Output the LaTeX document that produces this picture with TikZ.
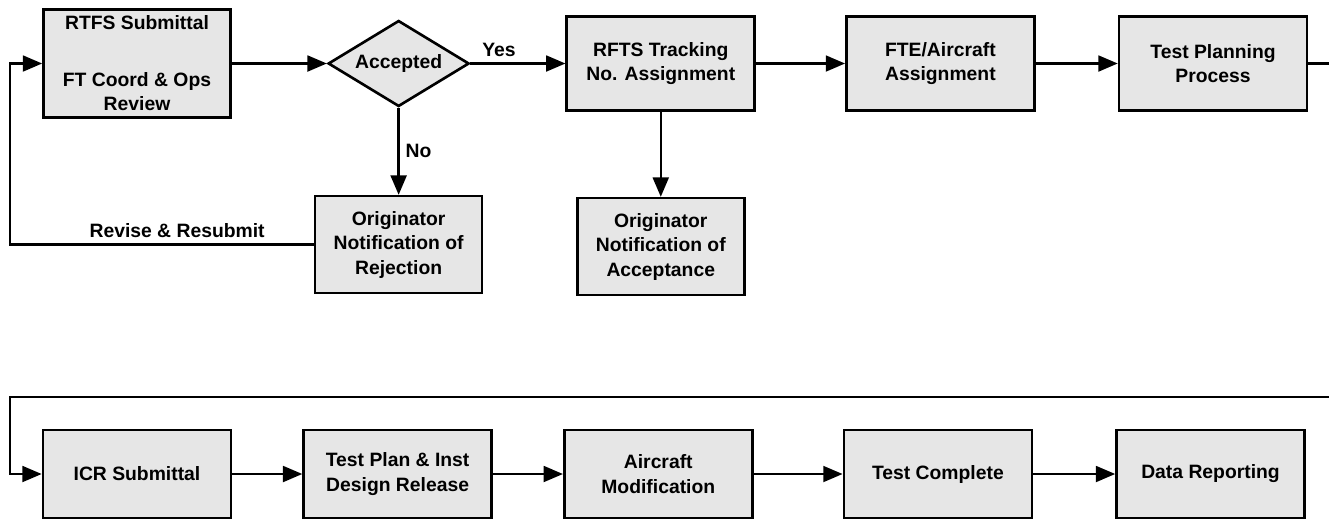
\documentclass[tikz,border=0pt]{standalone}
\usepackage{fontspec}
\setmainfont{Liberation Sans}
\usetikzlibrary{arrows.meta,positioning,shapes.geometric}
\definecolor{boxfill}{HTML}{E6E6E6}

\begin{document}
\begin{tikzpicture}[
  stepbox/.style={draw, line width=1.5pt, fill=boxfill, minimum width=3.76cm, minimum height=1.88cm, align=center, inner sep=2pt, font=\fontsize{11}{14}\selectfont\bfseries},
  notebox/.style={stepbox, minimum width=3.34cm, minimum height=1.94cm},
  decision/.style={draw, line width=1.5pt, fill=boxfill, diamond, aspect=1.64, minimum width=2.82cm, minimum height=1.72cm, inner sep=0pt, font=\fontsize{11}{14}\selectfont\bfseries},
  arr/.style={-{Triangle[length=11pt,width=9pt]}, line width=1.4pt},
  lbl/.style={font=\fontsize{11}{14}\selectfont\bfseries}
]
  \useasboundingbox (0,0) rectangle (26.58,-10.44);
  \coordinate (lft) at (0.2,0);
  \coordinate (rgt) at (27.0,0);
  \coordinate (bus) at (0,-7.94);

  \node[stepbox, minimum width=3.74cm, minimum height=2.16cm] (rtfs) at (2.74,-1.27) {RTFS Submittal\\[18pt]FT Coord \& Ops\\Review};
  \node[decision, right=1.9cm of rtfs] (acc) {Accepted};
  \node[stepbox, right=1.9cm of acc] (rfts) {RFTS Tracking\\No. Assignment};
  \node[stepbox, right=1.78cm of rfts] (fte) {FTE/Aircraft\\Assignment};
  \node[stepbox, right=1.64cm of fte] (tpp) {Test Planning\\Process};
  \node[notebox, below=1.74cm of acc] (rej) {Originator\\Notification of\\Rejection};
  \node[notebox, below=1.7cm of rfts] (accn) {Originator\\Notification of\\Acceptance};

  \node[stepbox, minimum height=1.76cm] (icr) at (2.74,-9.48) {ICR Submittal};
  \node[stepbox, minimum height=1.76cm, right=1.4cm of icr] (tpi) {Test Plan \& Inst\\Design Release};
  \node[stepbox, minimum height=1.76cm, right=1.4cm of tpi] (mod) {Aircraft\\Modification};
  \node[stepbox, minimum height=1.76cm, right=1.78cm of mod] (tc) {Test Complete};
  \node[stepbox, minimum height=1.76cm, right=1.64cm of tc] (rep) {Data Reporting};

  \draw[arr] (rtfs) -- (acc);
  \draw[arr] (acc) -- node[lbl, above, pos=.3] {Yes} (rfts);
  \draw[arr] (acc) -- node[lbl, right] {No} (rej);
  \draw[arr] (rfts) -- (accn);
  \draw[arr] (rfts) -- (fte);
  \draw[arr] (fte) -- (tpp);
  \draw[arr] (rej.west) -- node[lbl, above, pos=.45] {Revise \& Resubmit} (rej.west -| lft) |- (rtfs.west);
  \draw[arr] (tpp.east) -- (tpp.east -| rgt) -- (rgt |- bus) -- (lft |- bus) |- (icr.west);
  \draw[arr] (icr) -- (tpi);
  \draw[arr] (tpi) -- (mod);
  \draw[arr] (mod) -- (tc);
  \draw[arr] (tc) -- (rep);
\end{tikzpicture}
\end{document}
